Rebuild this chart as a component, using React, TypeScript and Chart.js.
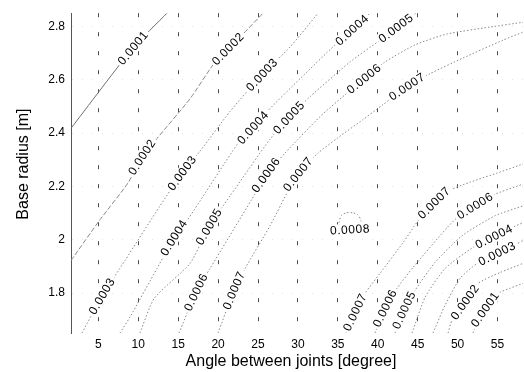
import React, { useEffect, useRef } from 'react';
import { Chart, registerables } from 'chart.js';

Chart.register(...registerables);

const xTicks = [5, 10, 15, 20, 25, 30, 35, 40, 45, 50, 55];
const yTicks = [1.8, 2, 2.2, 2.4, 2.6, 2.8];
const xTitle = 'Angle between joints [degree]';
const yTitle = 'Base radius [m]';

// Contour lines (x: degree, y: metre)
const upper1X = [1.57, 9.34, 13.6];
const upper1Y = [2.418, 2.72, 2.85];
const upper2X = [1.57, 5.2, 8.71, 10.46, 12.34, 16.48, 19.36, 21.24, 23.12, 25.63];
const upper2Y = [1.922, 2.075, 2.213, 2.31, 2.38, 2.529, 2.656, 2.716, 2.772, 2.85];
const upper3X = [2.94, 5.45, 8.33, 12.72, 15.48, 17.73, 21.49, 25.5, 29.01, 32.52];
const upper3Y = [1.65, 1.788, 1.922, 2.127, 2.25, 2.332, 2.481, 2.619, 2.723, 2.85];
const upper4X = [7.71, 8.96, 12.34, 14.47, 16.1, 22.49, 24.37, 26.13, 30.26, 34.65, 36.78, 39.04];
const upper4Y = [1.65, 1.71, 1.892, 2.008, 2.071, 2.362, 2.421, 2.481, 2.604, 2.731, 2.787, 2.85];
const upper5X = [10.21, 12.0, 16.48, 18.86, 21.49, 26.5, 28.88, 31.52, 36.53, 40.29, 42.29, 44.8];
const upper5Y = [1.65, 1.78, 1.911, 2.049, 2.164, 2.377, 2.459, 2.537, 2.667, 2.749, 2.794, 2.85];
const upper6X = [15.1, 17.23, 18.98, 24.25, 26.0, 28.38, 32.77, 35.9, 38.28, 40.91, 44.67, 48.68, 54.07, 58.2];
const upper6Y = [1.65, 1.803, 1.892, 2.153, 2.243, 2.325, 2.462, 2.544, 2.604, 2.667, 2.731, 2.772, 2.798, 2.816];
const upper7X = [19.99, 21.99, 23.37, 26.5, 28.76, 30.01, 32.52, 34.9, 38.16, 40.66, 43.67, 46.55, 50.69, 55.7, 58.2];
const upper7Y = [1.65, 1.81, 1.892, 2.052, 2.183, 2.246, 2.325, 2.38, 2.451, 2.507, 2.574, 2.623, 2.682, 2.749, 2.779];
const peak8X = [35.15, 35.4, 36.03, 36.9, 37.53, 37.91, 37.66, 36.53, 35.4, 35.15];
const peak8Y = [2.064, 2.09, 2.101, 2.101, 2.093, 2.071, 2.049, 2.038, 2.045, 2.064];
const lower7X = [36.03, 37.16, 38.41, 40.29, 43.17, 45.05, 47.06, 48.81, 51.57, 54.95, 58.2];
const lower7Y = [1.65, 1.728, 1.799, 1.874, 1.989, 2.071, 2.138, 2.183, 2.216, 2.25, 2.284];
const lower6X = [39.66, 40.91, 42.42, 44.42, 48.68, 50.06, 52.19, 54.45, 58.2];
const lower6Y = [1.65, 1.743, 1.818, 1.896, 2.045, 2.086, 2.127, 2.168, 2.209];
const lower5X = [42.17, 43.3, 44.67, 47.18, 50.56, 54.7, 58.2];
const lower5Y = [1.65, 1.736, 1.81, 1.915, 2.015, 2.09, 2.127];
const lower4X = [44.3, 45.93, 48.43, 52.07, 54.57, 57.08, 58.2];
const lower4Y = [1.65, 1.784, 1.892, 1.974, 2.012, 2.049, 2.064];
const lower3X = [46.93, 48.43, 50.31, 52.44, 54.95, 57.46, 58.2];
const lower3Y = [1.65, 1.754, 1.855, 1.911, 1.948, 1.985, 1.997];
const lower2X = [48.81, 49.31, 50.94, 52.57, 55.33, 58.2];
const lower2Y = [1.65, 1.698, 1.766, 1.836, 1.877, 1.911];
const lower1X = [51.94, 52.32, 53.45, 55.08, 56.58, 58.2];
const lower1Y = [1.65, 1.68, 1.739, 1.799, 1.818, 1.836];

const contourLevels = [0.0001, 0.0002, 0.0003, 0.0004, 0.0005, 0.0006, 0.0007, 0.0008,
  0.0007, 0.0006, 0.0005, 0.0004, 0.0003, 0.0002, 0.0001];
const contourXs = [upper1X, upper2X, upper3X, upper4X, upper5X, upper6X, upper7X, peak8X,
  lower7X, lower6X, lower5X, lower4X, lower3X, lower2X, lower1X];
const contourYs = [upper1Y, upper2Y, upper3Y, upper4Y, upper5Y, upper6Y, upper7Y, peak8Y,
  lower7Y, lower6Y, lower5Y, lower4Y, lower3Y, lower2Y, lower1Y];

// inline labels: which contour, which of its points
const labelContour = [0, 1, 1, 2, 2, 2, 3, 3, 3, 4, 4, 4, 5, 5, 5, 6, 6, 6, 7, 8, 8, 9, 9, 10, 11, 12, 13, 14];
const labelPoint = [1, 3, 7, 1, 4, 7, 3, 6, 10, 3, 6, 10, 1, 4, 8, 1, 5, 10, 7, 1, 6, 1, 6, 1, 4, 4, 2, 2];

const FONT = '"Liberation Sans", Arial, Helvetica, sans-serif';

const contourLabelPlugin = {
  id: 'contourLabels',
  afterDatasetsDraw(chart: any) {
    const { ctx, chartArea } = chart;
    const xs = chart.scales.x;
    const ys = chart.scales.y;
    ctx.save();
    ctx.beginPath();
    ctx.rect(chartArea.left, chartArea.top, chartArea.right - chartArea.left, chartArea.bottom - chartArea.top);
    ctx.clip();
    ctx.font = '12px ' + FONT;
    try { (ctx as any).letterSpacing = '0.6px'; } catch (e) {}
    ctx.textAlign = 'center';
    ctx.textBaseline = 'middle';
    labelContour.forEach((ci, k) => {
      const pi = labelPoint[k];
      const cx = contourXs[ci];
      const cy = contourYs[ci];
      const px = xs.getPixelForValue(cx[pi]);
      const py = ys.getPixelForValue(cy[pi]);
      const a = Math.max(0, pi - 1);
      const b = Math.min(cx.length - 1, pi + 1);
      let ang = Math.atan2(
        ys.getPixelForValue(cy[b]) - ys.getPixelForValue(cy[a]),
        xs.getPixelForValue(cx[b]) - xs.getPixelForValue(cx[a])
      );
      if (ang > Math.PI / 2) ang -= Math.PI;
      if (ang < -Math.PI / 2) ang += Math.PI;
      const text = contourLevels[ci].toFixed(4);
      ctx.save();
      ctx.translate(px, py);
      ctx.rotate(ang);
      const w = ctx.measureText(text).width;
      ctx.fillStyle = '#ffffff';
      ctx.fillRect(-w / 2 - 2, -6, w + 4, 12);
      ctx.fillStyle = '#000000';
      ctx.fillText(text, 0, 0.5);
      ctx.restore();
    });
    ctx.restore();
  },
};

const axisTitlePlugin = {
  id: 'axisTitles',
  afterDraw(chart: any) {
    const { ctx, chartArea } = chart;
    ctx.save();
    ctx.fillStyle = '#000000';
    ctx.font = '16px ' + FONT;
    ctx.textAlign = 'center';
    ctx.textBaseline = 'alphabetic';
    ctx.fillText(xTitle, (chartArea.left + chartArea.right) / 2 - 6, chart.height - 6);
    ctx.translate(28, (chartArea.top + chartArea.bottom) / 2 - 9);
    ctx.rotate(-Math.PI / 2);
    ctx.fillText(yTitle, 0, 0);
    ctx.restore();
  },
};

export default function App() {
  const canvasRef = useRef<HTMLCanvasElement | null>(null);

  useEffect(() => {
    if (!canvasRef.current) return;
    const datasets = contourXs.map((cx, ci) => ({
      label: contourLevels[ci].toFixed(4),
      data: cx.map((v, i) => ({ x: v, y: contourYs[ci][i] })),
      showLine: true,
      pointRadius: 0,
      pointHoverRadius: 0,
      borderColor: ci === 0 ? '#707070' : '#8a8a8a',
      borderWidth: 1,
      borderDash: ci === 0 ? [] : ci === 1 ? [5, 2] : [1.5, 2],
      tension: 0.2,
      fill: false,
    }));

    const chart = new Chart(canvasRef.current, {
      type: 'scatter',
      data: { datasets },
      options: {
        animation: false,
        responsive: true,
        maintainAspectRatio: false,
        layout: { padding: { top: 11, right: 1, left: 0, bottom: 0 } },
        plugins: {
          legend: { display: false },
          tooltip: { enabled: false },
        },
        scales: {
          x: {
            type: 'linear',
            min: 1.57,
            max: 58.2,
            z: 1,
            afterBuildTicks: (axis: any) => {
              axis.ticks = xTicks.map((v) => ({ value: v }));
            },
            afterFit: (axis: any) => {
              axis.height = 39;
            },
            ticks: {
              color: '#000',
              font: { family: FONT, size: 12 },
              padding: 4,
              maxRotation: 0,
              autoSkip: false,
              callback: (v: any) => String(v),
            },
            grid: { color: '#4a4a4a', lineWidth: 1, drawTicks: false },
            border: { display: false, dash: [4, 15] },
          },
          y: {
            type: 'linear',
            min: 1.65,
            max: 2.85,
            z: 1,
            afterBuildTicks: (axis: any) => {
              axis.ticks = yTicks.map((v) => ({ value: v }));
            },
            afterFit: (axis: any) => {
              axis.width = 71;
            },
            ticks: {
              color: '#000',
              font: { family: FONT, size: 12 },
              padding: 6,
              autoSkip: false,
              callback: (v: any) => String(v),
            },
            grid: { color: '#e4e4e4', lineWidth: 1, drawTicks: false },
            border: { display: true, color: '#555', width: 1, dash: [1, 9] },
          },
        },
      },
      plugins: [contourLabelPlugin, axisTitlePlugin],
    } as any);

    return () => chart.destroy();
  }, []);

  return (
    <div style={{ position: 'absolute', left: 0, top: 0, width: 524, height: 372, background: '#fff' }}>
      <canvas ref={canvasRef} />
    </div>
  );
}
